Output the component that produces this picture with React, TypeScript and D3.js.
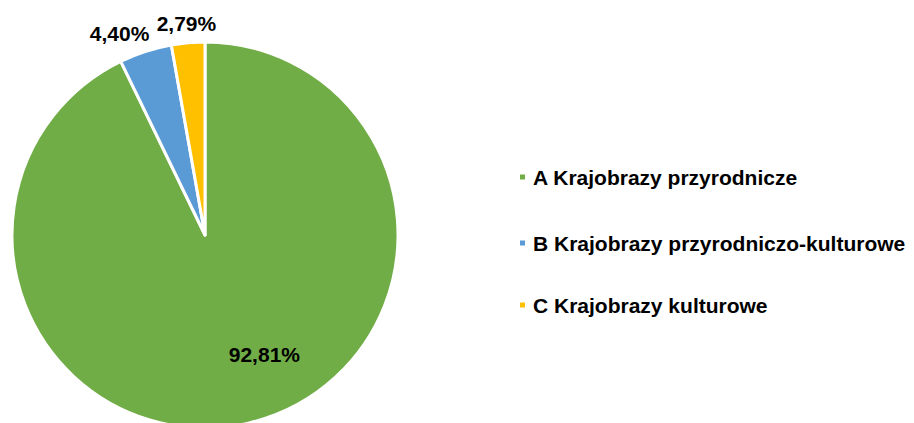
import React from "react";
import * as d3 from "d3";

const categories = ["A Krajobrazy przyrodnicze", "B Krajobrazy przyrodniczo-kulturowe", "C Krajobrazy kulturowe"];
const values = [92.81, 4.4, 2.79];
const labels = ["92,81%", "4,40%", "2,79%"];
const colors = ["#70AD47", "#5B9BD5", "#FFC000"];

export default function App() {
  const W = 914, H = 423;
  const cx = 205, cy = 235, R = 193;
  const pie = d3.pie<number>().sort(null).value((d) => d)(values);
  const arc = d3.arc<d3.PieArcDatum<number>>().innerRadius(0).outerRadius(R);
  const inLabel = d3.arc<d3.PieArcDatum<number>>().innerRadius(R * 0.68).outerRadius(R * 0.68);
  const outLabel = d3.arc<d3.PieArcDatum<number>>().innerRadius(R + 19).outerRadius(R + 19);
  const font = "Liberation Sans, Arial, sans-serif";
  const offsets = [[30, -8], [-20, 0], [0, 0]];
  return (
    <svg width={W} height={H} style={{ position: "absolute", left: 0, top: 0, background: "#fff" }}>
      <g transform={`translate(${cx},${cy})`}>
        {pie.map((p, i) => (
          <path key={i} d={arc(p) || ""} fill={colors[i]} stroke="#fff" strokeWidth={3} strokeLinejoin="round" />
        ))}
        {pie.map((p, i) => {
          const [x, y] = i === 0 ? inLabel.centroid(p) : outLabel.centroid(p);
          return (
            <text key={i} x={x + offsets[i][0]} y={y + offsets[i][1]} textAnchor="middle" dominantBaseline="central"
              fontFamily={font} fontWeight="bold" fontSize={21} fill="#000">
              {labels[i]}
            </text>
          );
        })}
      </g>
      <g>
        {categories.map((c, i) => {
          const y = [177, 243, 305][i];
          return (
            <g key={i}>
              <rect x={520} y={y - 2.5} width={5} height={5} fill={colors[i]} />
              <text x={533} y={y} dominantBaseline="central" fontFamily={font} fontWeight="bold" fontSize={21} fill="#000">
                {c}
              </text>
            </g>
          );
        })}
      </g>
    </svg>
  );
}
